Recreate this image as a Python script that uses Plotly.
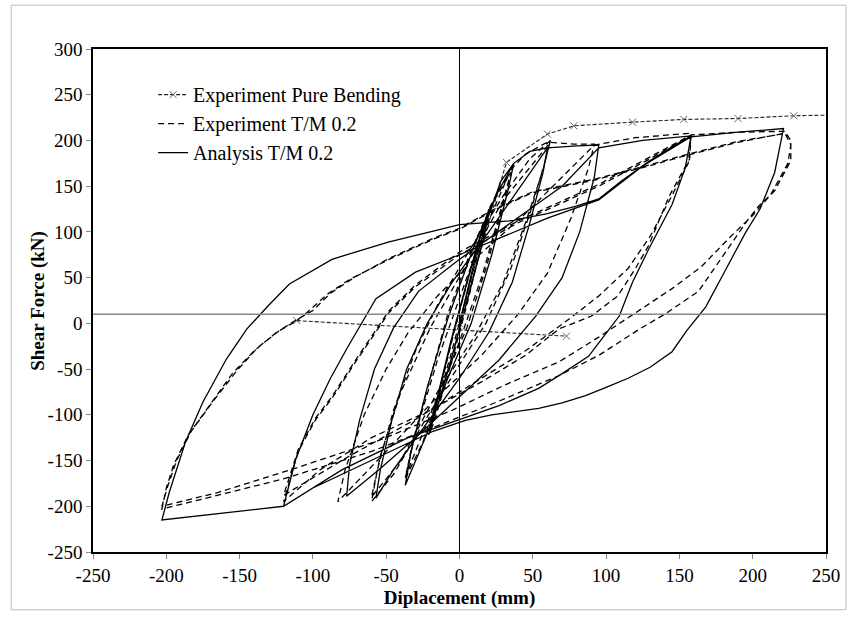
import plotly.graph_objects as go

# ---------------- data ----------------
# Experiment Pure Bending (sparse points, dashed with x markers)
pb_x = [-111, 73, None, 0, 32, 60, 78, 118, 153, 190, 228, 262]
pb_y = [3, -14, None, 0, 176, 207, 216, 220, 223, 224, 227, 228]

# Experiment T/M 0.2 (dashed)
tm_x = [0, 8, 15, 20, 14, 5, -5, -14, -20, -14, -4, 6, 15, 20,
        14, 4, -6, -15, -21, -13, -3, 7, 16, 21,
        28, 35, 30, 18, 5, -10, -25, -37, -32, -20, -8, 8, 22, 35,
        30, 16, 0, -20, -37, -30, -15, 5, 22, 35,
        45, 62, 58, 48, 35, 18, 0, -25, -45, -60, -56, -45, -30, -15, 5, 30, 48, 62,
        57, 45, 30, 10, -15, -40, -60, -54, -40, -20, 5, 30, 62,
        78, 92, 88, 76, 60, 40, 15, -15, -50, -83, -78, -65, -50, -35, -15, 10, 45, 70, 92,
        120, 158, 157, 150, 143, 129, 120, 108, 90, 68, 45, 15, -20, -60, -95, -120,
        -110, -98, -87, -70, -48, -30, 0, 40, 95, 130, 158,
        156, 145, 130, 115, 95, 75, 45, 10, -30, -75, -120,
        -110, -98, -87, -70, -48, -30, 0, 40, 95, 130, 158, 190, 222,
        226, 226, 215, 204, 197, 180, 163, 140, 123, 95, 68, 27, -7, -60, -120, -170, -203,
        -200, -195, -185, -170, -155, -140, -125, -111, -104, -90, -75, -48, -18, 0, 25, 50, 93, 129, 151, 190, 222,
        226, 224, 212, 200, 185, 165, 145, 122, 95, 68, 30, -5, -55, -115, -165, -203,
        -199, -193, -183, -168, -152, -138, -123, -110, -100, -88, -72, -48, -18, 0, 25, 50, 93, 129, 151, 190, 220]
tm_y = [0, 50, 95, 125, 80, 20, -40, -90, -120, -75, -10, 50, 100, 125,
        85, 25, -35, -85, -122, -70, -5, 55, 105, 128,
        150, 165, 130, 60, -5, -60, -130, -170, -130, -60, 10, 80, 130, 165,
        135, 55, -20, -100, -168, -120, -40, 50, 120, 168,
        185, 200, 175, 120, 60, 0, -45, -110, -165, -195, -160, -95, -30, 20, 75, 140, 180, 200,
        168, 110, 45, -15, -75, -150, -190, -145, -75, -5, 65, 135, 198,
        196, 196, 170, 115, 55, 10, -35, -80, -140, -195, -160, -100, -50, -10, 30, 70, 120, 160, 195,
        203, 208, 180, 160, 139, 85, 60, 30, 8, -6, -35, -64, -95, -125, -160, -195,
        -140, -105, -82, -40, 12, 40, 75, 110, 150, 180, 205,
        175, 140, 95, 60, 30, 5, -30, -65, -105, -145, -188,
        -138, -103, -80, -38, 14, 42, 78, 112, 152, 182, 206, 209, 210,
        200, 178, 145, 128, 114, 75, 35, 10, -6, -35, -57, -85, -107, -140, -170, -190, -203,
        -180, -155, -122, -88, -55, -30, -10, 3, 12, 32, 48, 70, 92, 103, 125, 143, 157, 172, 182, 198, 208,
        195, 175, 140, 118, 95, 62, 38, 14, -15, -42, -68, -95, -128, -160, -185, -200,
        -178, -150, -118, -85, -52, -27, -8, 5, 14, 33, 50, 71, 93, 104, 126, 144, 158, 173, 183, 199, 207]

# Analysis T/M 0.2 (solid)
an_x = [0, 8, 15, 20, 15, 6, -5, -14, -20, -14, -5, 6, 14, 20,
        16, 7, -4, -13, -21, -15, -6, 5, 13, 21,
        28, 37, 33, 22, 8, -8, -22, -37, -33, -22, -8, 10, 25, 37,
        48, 60, 57, 48, 36, 20, 0, -25, -45, -57, -54, -46, -36, -22, -5, 20, 42, 60,
        80, 95, 92, 82, 70, 52, 27, 0, -30, -55, -77, -75, -68, -58, -45, -28, 0, 35, 70, 95,
        125, 158, 154, 145, 129, 118, 109, 98, 88, 70, 54, 27, 0, -35, -80, -120,
        -112, -100, -88, -77, -57, -30, 0, 30, 60, 95, 125, 158,
        190, 221, 215, 205, 195, 182, 168, 155, 145, 130, 115, 100, 86, 70, 54, 22, 4, -18, -60, -100, -120, -160, -203,
        -198, -187, -175, -159, -145, -130, -116, -100, -87, -75, -48, -20, 0, 34, 60, 79, 95, 110, 129, 145, 157]
an_y = [0, 55, 100, 120, 85, 30, -35, -85, -115, -75, -15, 50, 95, 120,
        90, 35, -30, -80, -118, -80, -20, 45, 90, 122,
        155, 175, 145, 75, 0, -60, -120, -177, -140, -70, 5, 85, 140, 175,
        188, 192, 165, 110, 45, -10, -60, -115, -160, -191, -160, -105, -50, 0, 45, 100, 150, 192,
        194, 195, 160, 100, 50, 8, -40, -80, -125, -160, -189, -155, -105, -50, -5, 35, 70, 110, 150, 192,
        200, 205, 170, 130, 81, 45, 8, -15, -36, -55, -71, -90, -105, -125, -160, -200,
        -150, -100, -60, -28, 27, 56, 75, 95, 115, 135, 172, 204,
        209, 213, 165, 125, 99, 60, 18, -8, -31, -48, -60, -70, -79, -87, -93, -100, -106, -118, -150, -180, -200, -207, -215,
        -185, -130, -86, -39, -6, 20, 43, 58, 70, 76, 89, 100, 108, 112, 120, 128, 136, 155, 177, 193, 204]

x_ticks = [-250, -200, -150, -100, -50, 0, 50, 100, 150, 200, 250]
y_ticks = [-250, -200, -150, -100, -50, 0, 50, 100, 150, 200, 250, 300]

FONT = "Liberation Serif"

fig = go.Figure()
fig.add_trace(go.Scatter(
    x=pb_x, y=pb_y, mode="lines+markers", name="Experiment Pure Bending",
    line=dict(color="#222222", width=1.1, dash="4px,2px"),
    marker=dict(symbol="x-thin", size=7, line=dict(color="#666666", width=1), color="#666666"),
    connectgaps=False))
fig.add_trace(go.Scatter(
    x=tm_x, y=tm_y, mode="lines", name="Experiment T/M 0.2",
    line=dict(color="black", width=1.3, dash="6px,4px")))
fig.add_trace(go.Scatter(
    x=an_x, y=an_y, mode="lines", name="Analysis T/M 0.2",
    line=dict(color="black", width=1.3)))

# reference lines
fig.add_shape(type="line", xref="x", yref="paper", x0=0, x1=0, y0=0, y1=1,
              line=dict(color="black", width=1))
fig.add_shape(type="line", xref="paper", yref="y", x0=0, x1=1, y0=10, y1=10,
              line=dict(color="#888888", width=1.5))
# outer chart border
fig.add_shape(type="rect", xref="paper", yref="paper",
              x0=-0.1116, x1=1.0272, y0=-0.1149, y1=1.0871,
              line=dict(color="#bbbbbb", width=1))

# y axis title placed as rotated text
fig.add_annotation(text="<b>Shear Force (kN)</b>", xref="paper", yref="paper",
                   x=-0.076, y=0.5, xanchor="center", yanchor="middle",
                   textangle=-90, showarrow=False,
                   font=dict(family=FONT, size=19, color="black"))

fig.update_layout(
    width=852, height=617,
    margin=dict(l=93, r=24, t=49, b=63),
    paper_bgcolor="white", plot_bgcolor="white",
    font=dict(family=FONT, size=19, color="black"),
    showlegend=True,
    legend=dict(x=0.082, y=0.948, xanchor="left", yanchor="top",
                bgcolor="rgba(0,0,0,0)", borderwidth=0,
                font=dict(family=FONT, size=20), tracegroupgap=0,
                itemwidth=30),
)
fig.update_xaxes(range=[-250, 250], tickvals=x_ticks, ticktext=[str(v) for v in x_ticks],
                 showgrid=False, zeroline=False,
                 showline=True, linecolor="black", linewidth=1.5, mirror=True,
                 ticks="outside", ticklen=5, tickcolor="#888888",
                 title=dict(text="<b>Diplacement (mm)</b>", font=dict(family=FONT, size=19), standoff=6))
fig.update_yaxes(range=[-250, 300], tickvals=y_ticks, ticktext=[str(v) for v in y_ticks],
                 showgrid=False, zeroline=False,
                 showline=True, linecolor="black", linewidth=1.5, mirror=True,
                 ticks="outside", ticklen=5, tickcolor="#888888")

fig.write_html("out.html")
